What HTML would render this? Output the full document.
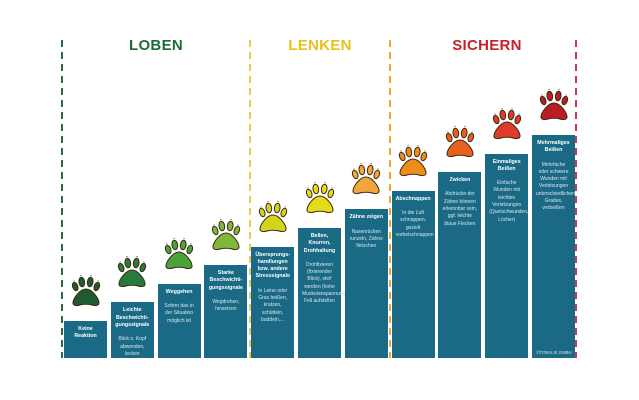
<!DOCTYPE html>
<html><head><meta charset="utf-8">
<style>
html,body{margin:0;padding:0;background:#fff;}
body{width:639px;height:400px;position:relative;overflow:hidden;font-family:"Liberation Sans",sans-serif;}
.title{position:absolute;top:37px;font-weight:bold;font-size:15px;transform:translateX(-50%);letter-spacing:0.3px;}
.bar{position:absolute;background:#1a6a85;color:#fff;text-align:center;box-sizing:border-box;padding:5px 4px;}
.bar b{display:block;font-size:5.3px;line-height:7.3px;}
.bar span{display:block;font-size:5px;line-height:7.3px;margin-top:7px;color:#d8e6ec;}
.vl{position:absolute;top:40px;height:318px;width:2px;}
svg.paw{position:absolute;}
.copy{position:absolute;left:533px;top:350px;width:42px;font-size:4.3px;color:#d0e2ea;text-align:center;}
</style></head><body>
<div class="vl" style="left:61px;background:repeating-linear-gradient(#2a6b3e 0 7px,transparent 7px 12px)"></div>
<div class="vl" style="left:249px;background:repeating-linear-gradient(#ecc850 0 7px,transparent 7px 12px)"></div>
<div class="vl" style="left:389px;background:repeating-linear-gradient(#f0a830 0 7px,transparent 7px 12px)"></div>
<div class="vl" style="left:575px;background:repeating-linear-gradient(#c83a50 0 7px,transparent 7px 12px)"></div>
<div class="title" style="left:156px;color:#1e6b3a">LOBEN</div>
<div class="title" style="left:320px;color:#e8c21a">LENKEN</div>
<div class="title" style="left:487px;color:#c8202a">SICHERN</div>
<div id="chart"></div>
<div class="copy">©TOBALIE GMBH</div>
<script>
const labels=["Keine Reaktion","Leichte Beschwichti-gungssignale","Weggehen","Starke Beschwichti-gungssignale","Übersprungs-handlungen bzw. andere Stresssignale","Bellen, Knurren, Drohhaltung","Zähne zeigen","Abschnappen","Zwicken","Einmaliges Beißen","Mehrmaliges Beißen"];
const descs=["","Blick o. Kopf abwenden, lecken","Sofern das in der Situation möglich ist","Wegdrehen, hinsetzen","In Leine oder Gras beißen, kratzen, schütteln, buddeln,...","Drohfixieren (fixierender Blick), steif werden (hohe Muskelanspannung), Fell aufstellen","Nasenrücken runzeln, Zähne fletschen","In die Luft schnappen, gezielt vorbeischnappen","Abdrücke der Zähne können erkennbar sein, ggf. leichte blaue Flecken","Einfache Wunden mit leichten Verletzungen (Quetschwunden, Löcher)","Mehrfache oder schwere Wunden mit Verletzungen unterschiedlichen Grades, verbeißen"];
const levels=[1,2,3,4,5,6,7,8,9,10,11];
const pawColors=["#1f5a30","#2a7a3c","#4ba23a","#7eb83a","#d4d41e","#e8d81a","#f2a53c","#f08c1c","#e8621e","#e03a2a","#b81c24"];
const x0=64,pitch=46.8,bw=43,base=358,unit=18.6,minH=37-18.6;
const yH=v=>minH+v*unit;
const chart=document.getElementById('chart');
levels.forEach((v,i)=>{
  const h=yH(v),x=x0+i*pitch,top=base-h;
  const d=document.createElement('div');
  d.className='bar';
  
  
  d.style.left=x+'px';d.style.top=top+'px';d.style.width=bw+'px';d.style.height=h+'px';
  d.innerHTML='<b>'+labels[i]+'</b>'+(descs[i]?'<span>'+descs[i]+'</span>':'');
  chart.appendChild(d);
  const c=pawColors[i];
  const s=document.createElementNS('http://www.w3.org/2000/svg','svg');
  s.setAttribute('class','paw');
  
  
  s.setAttribute('width','30');s.setAttribute('height','34');s.setAttribute('viewBox','0 0 30 34');
  s.style.left=(x+bw/2-15)+'px';s.style.top=(top-47)+'px';
  s.innerHTML=
   '<g stroke="#3a2a10" stroke-width="1" fill="'+c+'">'+
   '<path d="M15 15 C9 15 2.5 24 2 28.5 C1.5 32 6 32 9 31 C12 30 18 30 21 31 C24 32 28.5 32 28 28.5 C27.5 24 21 15 15 15Z"/>'+
   '<ellipse cx="4.2" cy="12.5" rx="2.6" ry="4.3" transform="rotate(-20 4.2 12.5)"/>'+
   '<ellipse cx="10.8" cy="8" rx="2.8" ry="4.8" transform="rotate(-8 10.8 8)"/>'+
   '<ellipse cx="19.2" cy="8" rx="2.8" ry="4.8" transform="rotate(8 19.2 8)"/>'+
   '<ellipse cx="25.8" cy="12.5" rx="2.6" ry="4.3" transform="rotate(20 25.8 12.5)"/></g>'+
   '<g fill="#555"><circle cx="3" cy="7" r="0.6"/><circle cx="10" cy="1.5" r="0.6"/><circle cx="20" cy="1.5" r="0.6"/><circle cx="27" cy="7" r="0.6"/></g>';
  chart.appendChild(s);
});
</script>
</body></html>
